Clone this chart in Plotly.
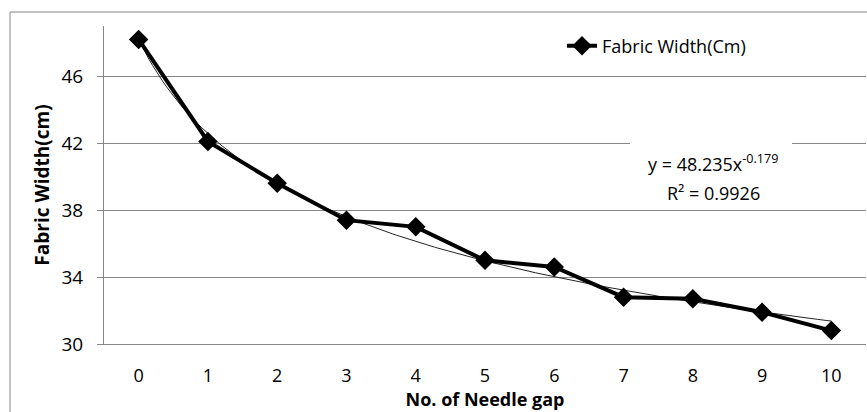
import numpy as np
import plotly.graph_objects as go

needle_gap = [0, 1, 2, 3, 4, 5, 6, 7, 8, 9, 10]
fabric_width = [48.2, 42.1, 39.6, 37.4, 37.0, 35.0, 34.6, 32.8, 32.7, 31.9, 30.8]
y_ticks = [30, 34, 38, 42, 46]
eq_line1 = "y = 48.235x<sup>-0.179</sup>"
eq_line2 = "R² = 0.9926"

# power trendline (Excel style, x = category index 1..n) fitted from the data
xi = np.array(needle_gap, dtype=float) + 1
b, ln_a = np.polyfit(np.log(xi), np.log(fabric_width), 1)
a = np.exp(ln_a)
tx = np.linspace(needle_gap[0], needle_gap[-1], 200)
ty = a * (tx + 1) ** b

FONT = "Open Sans"
L, T, W, H = 104, 26, 762, 318


def px(x):
    return (x - L) / W


def py(y):
    return (T + H - y) / H


fig = go.Figure()
fig.add_trace(go.Scatter(x=tx, y=ty, mode="lines", line=dict(color="#222222", width=1),
                         showlegend=False, hoverinfo="skip"))
fig.add_trace(go.Scatter(x=needle_gap, y=fabric_width, mode="lines+markers",
                         name="Fabric Width(Cm)",
                         line=dict(color="black", width=4),
                         marker=dict(symbol="diamond", size=15, color="black")))

fig.update_layout(
    width=867, height=412,
    margin=dict(l=L, r=867 - L - W, t=T, b=412 - T - H),
    paper_bgcolor="white", plot_bgcolor="white",
    font=dict(family=FONT, size=18, color="black"),
    showlegend=True,
    legend=dict(x=px(562), y=py(46), xanchor="left", yanchor="middle",
                bgcolor="rgba(0,0,0,0)", font=dict(size=18, family=FONT)),
    xaxis=dict(range=[-0.5, 10.5], tickvals=needle_gap, ticktext=[str(v) for v in needle_gap],
               showgrid=False, zeroline=False, showline=True, linecolor="#868686", linewidth=1,
               ticks="", ticklabelstandoff=15, tickfont=dict(size=18),
               title=dict(text="<b>No. of Needle gap</b>", font=dict(size=18, family=FONT), standoff=3)),
    yaxis=dict(range=[30, 49], tickvals=y_ticks, showgrid=True, gridcolor="#868686", gridwidth=1,
               zeroline=False, showline=True, linecolor="#868686", linewidth=1,
               ticks="outside", ticklen=6, tickcolor="#868686", ticklabelstandoff=10,
               tickfont=dict(size=19),
               title=dict(text="<b>Fabric Width(cm)</b>", font=dict(size=19, family=FONT), standoff=6)),
)

fig.add_shape(type="rect", xref="paper", yref="paper",
              x0=px(630), x1=px(792), y0=py(205), y1=py(140),
              fillcolor="white", line=dict(width=0), layer="above")
fig.add_annotation(xref="paper", yref="paper", x=px(713), y=py(163), text=eq_line1,
                   showarrow=False, xanchor="center", yanchor="middle",
                   font=dict(size=18, family=FONT))
fig.add_annotation(xref="paper", yref="paper", x=px(713), y=py(193), text=eq_line2,
                   showarrow=False, xanchor="center", yanchor="middle",
                   font=dict(size=18, family=FONT))

fig.add_shape(type="rect", xref="paper", yref="paper",
              x0=px(10), x1=1.2, y0=-0.4, y1=py(12),
              line=dict(color="#868686", width=1), layer="below")

fig.write_html("out.html")
